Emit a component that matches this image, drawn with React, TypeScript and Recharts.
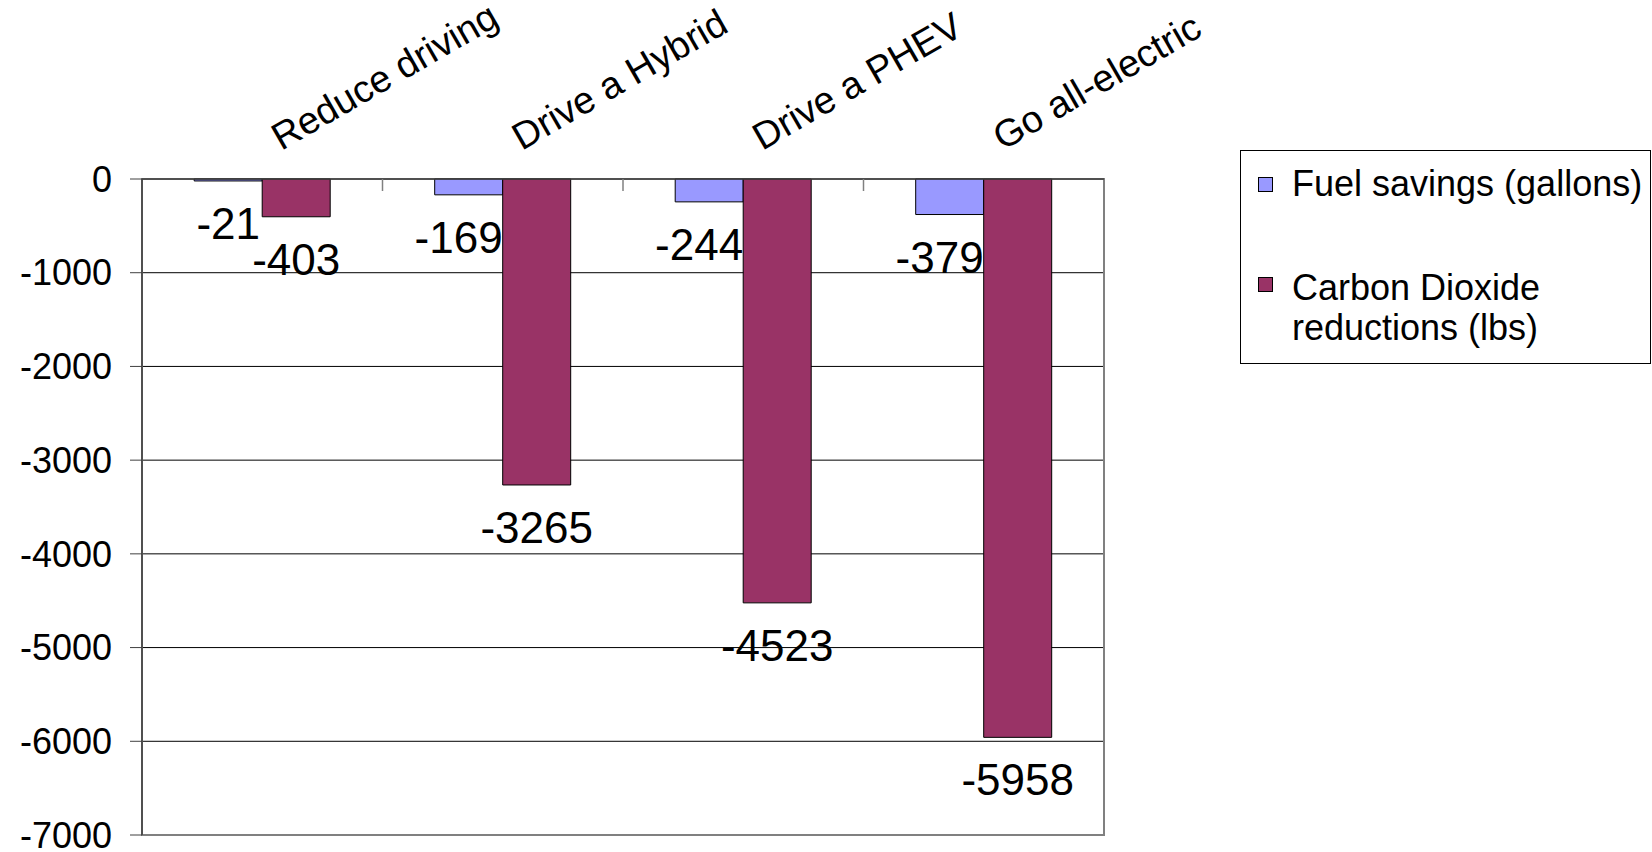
import React from 'react';
import { BarChart, Bar, XAxis, YAxis, CartesianGrid, Legend, LabelList, ReferenceArea } from 'recharts';

const categories = ['Reduce driving', 'Drive a Hybrid', 'Drive a PHEV', 'Go all-electric'];
const fuelSavings = [-21, -169, -244, -379];
const co2Reductions = [-403, -3265, -4523, -5958];
const yTicks = [0, -1000, -2000, -3000, -4000, -5000, -6000, -7000];
const seriesNames = ['Fuel savings (gallons)', 'Carbon Dioxide reductions (lbs)'];
const seriesColors = ['#9999FF', '#993366'];

const data = categories.map((name, i) => ({ name, fuel: fuelSavings[i], co2: co2Reductions[i] }));

const FONT = '"Liberation Sans", Arial, Helvetica, sans-serif';
const W = 1652;
const H = 852;
const MARGIN = { top: 29, right: 548, bottom: 17, left: 0 };
const X_AXIS_H = 150;
const Y_AXIS_W = 142;
const PLOT_TOP = MARGIN.top + X_AXIS_H;
const PLOT_W = W - MARGIN.right - MARGIN.left - Y_AXIS_W;
const BAND = PLOT_W / categories.length;
const LABEL_SIZE = 44;

// rotated category names above the plot, plus the small ticks between categories
const CategoryTick = (props: any) => {
  const { x, payload, index } = props;
  const half = payload && payload.offset ? payload.offset : BAND / 2;
  const tx = x + 19;
  const ty = PLOT_TOP - 28;
  return (
    <g>
      {index > 0 && (
        <line x1={x - half} x2={x - half} y1={PLOT_TOP} y2={PLOT_TOP + 12} stroke="#808080" strokeWidth={1.5} />
      )}
      <text
        x={tx}
        y={ty}
        transform={`rotate(-30 ${tx} ${ty})`}
        fontSize={38}
        fontFamily={FONT}
        fill="#000"
        textAnchor="start"
      >
        {payload.value}
      </text>
    </g>
  );
};

const textWidth = (s: string) => {
  let w = 0;
  for (const ch of s) w += ch === '-' ? 0.333 : 0.556;
  return w * LABEL_SIZE;
};

// labels under the bar end; the left bar's label is kept from running into its neighbour
const makeLabel = (keepLeft: boolean) => (props: any) => {
  const { x, y, width, height, value } = props;
  const bottom = Math.max(y, y + height);
  const str = String(value);
  let cx = x + width / 2;
  let anchor: 'middle' | 'end' = 'middle';
  if (keepLeft && textWidth(str) > width) {
    cx = x + width;
    anchor = 'end';
  }
  return (
    <text x={cx} y={bottom + 58} textAnchor={anchor} fontSize={LABEL_SIZE} fontFamily={FONT} fill="#000">
      {str}
    </text>
  );
};

const LegendBox = () => (
  <div
    style={{
      position: 'relative',
      width: 411,
      height: 214,
      border: '1px solid #000',
      boxSizing: 'border-box',
      background: '#fff',
      fontFamily: FONT,
      fontSize: 36,
      lineHeight: '40px',
      color: '#000',
      textAlign: 'left',
    }}
  >
    {seriesNames.map((name, i) => (
      <React.Fragment key={name}>
        <div
          style={{
            position: 'absolute',
            left: 17,
            top: i === 0 ? 26 : 126,
            width: 15,
            height: 15,
            background: seriesColors[i],
            border: '1px solid #000',
            boxSizing: 'border-box',
          }}
        />
        <div style={{ position: 'absolute', left: 51, top: i === 0 ? 13 : 117, width: 358 }}>{name}</div>
      </React.Fragment>
    ))}
  </div>
);

export default function App() {
  return (
    <div style={{ position: 'absolute', left: 0, top: 0, width: W, height: H, background: '#fff' }}>
      <BarChart width={W} height={H} data={data} margin={MARGIN} barCategoryGap="21.7%" barGap={0}>
        <CartesianGrid vertical={false} stroke="#000" strokeWidth={1} />
        <XAxis
          dataKey="name"
          orientation="top"
          height={X_AXIS_H}
          interval={0}
          axisLine={{ stroke: '#404040', strokeWidth: 1.5 }}
          tickLine={false}
          tick={<CategoryTick />}
        />
        <YAxis
          type="number"
          width={Y_AXIS_W}
          domain={[-7000, 0]}
          ticks={yTicks}
          interval={0}
          tickSize={12}
          tickMargin={18}
          axisLine={{ stroke: '#404040', strokeWidth: 1.5 }}
          tickLine={{ stroke: '#404040' }}
          tick={{ fill: '#000', fontSize: 36, fontFamily: FONT }}
        />
        <ReferenceArea y1={-7000} y2={0} fill="none" stroke="#808080" strokeWidth={2} />
        <Bar dataKey="fuel" name={seriesNames[0]} fill={seriesColors[0]} stroke="#000" strokeWidth={1} isAnimationActive={false}>
          <LabelList dataKey="fuel" content={makeLabel(true)} />
        </Bar>
        <Bar dataKey="co2" name={seriesNames[1]} fill={seriesColors[1]} stroke="#000" strokeWidth={1} isAnimationActive={false}>
          <LabelList dataKey="co2" content={makeLabel(false)} />
        </Bar>
        <Legend
          verticalAlign="middle"
          layout="horizontal"
          content={() => <LegendBox />}
          wrapperStyle={{ position: 'absolute', left: 1240, top: 150, width: 411, height: 214 }}
        />
      </BarChart>
    </div>
  );
}
